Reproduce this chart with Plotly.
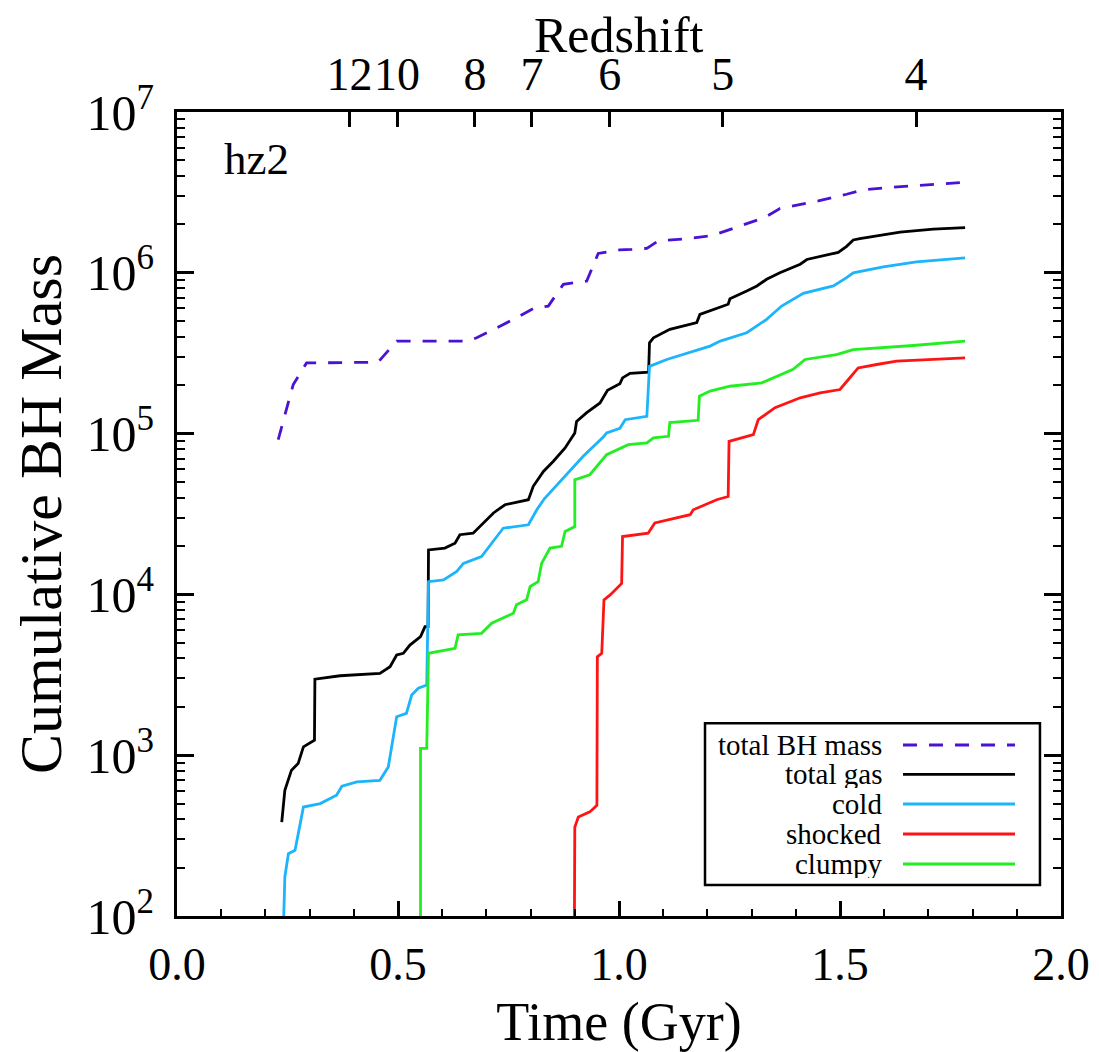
import plotly.graph_objects as go

# ---------------- data ----------------
# total BH mass (dashed)
t_total_bh = [0.229, 0.263, 0.293, 0.455, 0.497, 0.659, 0.678, 0.769, 0.810, 0.840,
              0.874, 0.927, 0.953, 1.002, 1.029, 1.063, 1.089, 1.146, 1.213, 1.274,
              1.330, 1.364, 1.451, 1.515, 1.553, 1.613, 1.780]
m_total_bh = [9.18e4, 2.02e5, 2.75e5, 2.78e5, 3.76e5, 3.76e5, 3.94e5, 5.26e5, 6.07e5, 6.21e5,
              8.47e5, 8.89e5, 1.32e6, 1.39e6, 1.40e6, 1.42e6, 1.58e6, 1.62e6, 1.71e6, 1.96e6,
              2.21e6, 2.51e6, 2.80e6, 3.08e6, 3.28e6, 3.40e6, 3.65e6]

# total gas (black)
t_total_gas = [0.237, 0.244, 0.259, 0.274, 0.286, 0.311, 0.312, 0.369, 0.459, 0.482,
               0.497, 0.512, 0.527, 0.551, 0.561, 0.568, 0.569, 0.606, 0.629, 0.640,
               0.670, 0.693, 0.716, 0.742, 0.768, 0.795, 0.806, 0.829, 0.851, 0.878,
               0.900, 0.904, 0.927, 0.957, 0.974, 1.002, 1.008, 1.025, 1.067, 1.069,
               1.078, 1.115, 1.176, 1.183, 1.247, 1.251, 1.289, 1.312, 1.334, 1.364,
               1.410, 1.425, 1.496, 1.515, 1.530, 1.545, 1.636, 1.711, 1.783]
m_total_gas = [384, 605, 807, 887, 1127, 1239, 2972, 3119, 3228, 3548,
               4198, 4305, 4842, 5458, 6295, 6295, 1.89e4, 1.94e4, 2.08e4, 2.35e4,
               2.40e4, 2.78e4, 3.21e4, 3.61e4, 3.73e4, 3.88e4, 4.70e4, 5.82e4, 6.71e4, 8.15e4,
               1.01e5, 1.19e5, 1.35e5, 1.55e5, 1.86e5, 2.04e5, 2.22e5, 2.37e5, 2.41e5, 3.67e5,
               3.94e5, 4.45e5, 4.90e5, 5.51e5, 6.37e5, 6.90e5, 7.71e5, 8.28e5, 9.12e5, 1.00e6,
               1.13e6, 1.21e6, 1.34e6, 1.46e6, 1.60e6, 1.63e6, 1.79e6, 1.87e6, 1.91e6]

# cold (cyan)
t_cold = [0.2405, 0.244, 0.252, 0.267, 0.278, 0.286, 0.324, 0.361, 0.373, 0.407,
          0.459, 0.478, 0.497, 0.519, 0.531, 0.546, 0.565, 0.569, 0.603, 0.633,
          0.648, 0.689, 0.712, 0.738, 0.795, 0.814, 0.831, 0.874, 0.919, 0.965,
          0.972, 1.002, 1.014, 1.063, 1.069, 1.108, 1.206, 1.229, 1.289, 1.334,
          1.368, 1.417, 1.485, 1.515, 1.530, 1.598, 1.673, 1.783]
m_cold = [80, 175, 244, 256, 366, 476, 500, 564, 641, 682,
          698, 845, 1734, 1820, 2366, 2606, 2729, 1.20e4, 1.23e4, 1.39e4,
          1.56e4, 1.72e4, 2.08e4, 2.58e4, 2.71e4, 3.36e4, 3.93e4, 5.30e4, 7.23e4, 9.55e4,
          1.01e5, 1.08e5, 1.22e5, 1.28e5, 2.62e5, 2.89e5, 3.50e5, 3.76e5, 4.24e5, 5.13e5,
          6.21e5, 7.45e5, 8.28e5, 9.33e5, 1.00e6, 1.09e6, 1.17e6, 1.24e6]

# shocked (red)
t_shocked = [0.899, 0.900, 0.908, 0.934, 0.950, 0.951, 0.961, 0.966, 0.980, 0.995,
             1.006, 1.008, 1.066, 1.081, 1.161, 1.168, 1.221, 1.247, 1.249, 1.304,
             1.315, 1.353, 1.410, 1.455, 1.500, 1.519, 1.541, 1.583, 1.628, 1.783]
m_shocked = [80, 357, 413, 444, 488, 4093, 4305, 9247, 9931, 1.09e4,
             1.17e4, 2.29e4, 2.40e4, 2.78e4, 3.13e4, 3.36e4, 3.88e4, 4.06e4, 8.95e4, 9.86e4,
             1.22e5, 1.45e5, 1.67e5, 1.79e5, 1.88e5, 2.17e5, 2.56e5, 2.69e5, 2.82e5, 2.96e5]

# clumpy (green)
t_clumpy = [0.551, 0.551, 0.565, 0.569, 0.629, 0.636, 0.689, 0.712, 0.761, 0.768,
            0.791, 0.799, 0.817, 0.825, 0.844, 0.870, 0.878, 0.900, 0.900, 0.934,
            0.972, 1.021, 1.063, 1.078, 1.112, 1.115, 1.179, 1.182, 1.206, 1.251,
            1.323, 1.357, 1.394, 1.421, 1.492, 1.530, 1.666, 1.783]
m_clumpy = [80, 1102, 1102, 4305, 4624, 5598, 5728, 6622, 7638, 8610,
            9247, 1.12e4, 1.20e4, 1.56e4, 1.94e4, 1.99e4, 2.46e4, 2.64e4, 5.16e4, 5.55e4,
            7.40e4, 8.53e4, 8.75e4, 9.40e4, 9.62e4, 1.17e5, 1.21e5, 1.71e5, 1.84e5, 1.97e5,
            2.07e5, 2.28e5, 2.51e5, 2.89e5, 3.10e5, 3.33e5, 3.53e5, 3.76e5]

# top axis: redshift labels and the times where they sit
redshift_labels = ["12", "10", "8", "7", "6", "5", "4"]
redshift_times = [0.390, 0.498, 0.674, 0.803, 0.979, 1.235, 1.672]

series_names = ["total BH mass", "total gas", "cold", "shocked", "clumpy"]

# ---------------- styling ----------------
FONT = "Liberation Serif"
PURPLE = "#4a12d2"
BLACK = "#000000"
CYAN = "#1cb4fa"
RED = "#ff1414"
GREEN = "#22ee22"
DASH = "14px,12px"
LW = 2.8

series = [
    (t_total_bh, m_total_bh, PURPLE, DASH, "x2"),
    (t_total_gas, m_total_gas, BLACK, "solid", "x"),
    (t_cold, m_cold, CYAN, "solid", "x"),
    (t_shocked, m_shocked, RED, "solid", "x"),
    (t_clumpy, m_clumpy, GREEN, "solid", "x"),
]

fig = go.Figure()
for (tx, my, col, dash, xa), name in zip(series, series_names):
    fig.add_trace(go.Scatter(x=tx, y=my, mode="lines", name=name, xaxis=xa, yaxis="y",
                             line=dict(color=col, width=LW, dash=dash),
                             showlegend=False))

minor_y = [k * 10 ** e for e in range(2, 7) for k in range(2, 10)]
major_y = [10 ** e for e in range(2, 8)]

# the page adds an 8px body margin, so the figure is sized to fit the window
fig.update_layout(
    width=1091, height=1044,
    margin=dict(l=169, r=38, t=104, b=136, autoexpand=False),
    paper_bgcolor="white", plot_bgcolor="white",
    font=dict(family=FONT, color="black"),
    showlegend=False,
    xaxis=dict(
        range=[0, 2], tickmode="linear", tick0=0, dtick=0.5, tickformat=".1f",
        ticks="inside", ticklen=15, tickwidth=2.5, tickcolor="black",
        showline=True, linewidth=3, linecolor="black", mirror=False,
        showgrid=False, zeroline=False, automargin=False, tickangle=0,
        tickfont=dict(size=46, family=FONT), ticklabelstandoff=6,
        title=dict(text="Time (Gyr)", font=dict(size=54, family=FONT), standoff=14),
        minor=dict(dtick=0.1, tick0=0, ticks="inside", ticklen=7, tickwidth=2,
                   tickcolor="black", showgrid=False),
    ),
    xaxis2=dict(
        overlaying="x", side="top", anchor="y", range=[0, 2],
        tickmode="array", tickvals=redshift_times, ticktext=redshift_labels,
        ticks="inside", ticklen=15, tickwidth=2.5, tickcolor="black",
        showline=True, linewidth=3, linecolor="black",
        showgrid=False, zeroline=False, automargin=False, tickangle=0,
        tickfont=dict(size=46, family=FONT), ticklabelstandoff=1,
    ),
    yaxis=dict(
        type="log", range=[2, 7],
        tickmode="array", tickvals=major_y,
        ticktext=["10<sup>%d</sup>" % e for e in range(2, 8)],
        ticks="inside", ticklen=17, tickwidth=2.5, tickcolor="black",
        showline=True, linewidth=3, linecolor="black", mirror="ticks",
        showgrid=False, zeroline=False, automargin=False,
        tickfont=dict(size=50, family=FONT), ticklabelstandoff=10,
        title=dict(text="Cumulative BH Mass", font=dict(size=60, family=FONT), standoff=8),
        minor=dict(tickmode="array", tickvals=minor_y, ticks="inside", ticklen=8,
                   tickwidth=2, tickcolor="black", showgrid=False),
    ),
)

# top-axis title
fig.add_annotation(text="Redshift", xref="paper", yref="paper", x=0.5, y=1.096,
                   xanchor="center", yanchor="middle", showarrow=False,
                   height=44, valign="middle", borderpad=0,
                   font=dict(size=50, family=FONT, color="black"))

# panel label
fig.add_annotation(text="hz2", xref="paper", yref="paper", x=0.0506, y=0.942,
                   xanchor="left", yanchor="middle", showarrow=False,
                   font=dict(size=45, family=FONT, color="black"))

# hand-built legend (text on the left, line sample on the right)
box = dict(x0=0.5973, x1=0.9762, y0=0.0386, y1=0.2397)
fig.add_shape(type="rect", xref="paper", yref="paper", **box,
              line=dict(color="black", width=2.5), fillcolor="white", layer="above")
row_y = [0.2127, 0.1762, 0.1393, 0.1020, 0.0647]
for (tx, my, col, dash, xa), name, ry in zip(series, series_names, row_y):
    fig.add_annotation(text=name, xref="paper", yref="paper", x=0.7983, y=ry,
                       xanchor="right", yanchor="middle", showarrow=False,
                       height=28, valign="middle", borderpad=0,
                       font=dict(size=29, family=FONT, color="black"))
    fig.add_shape(type="line", xref="paper", yref="paper", x0=0.8213, x1=0.9480,
                  y0=ry, y1=ry, layer="above",
                  line=dict(color=col, width=LW, dash=dash))

fig.write_html("out.html")
